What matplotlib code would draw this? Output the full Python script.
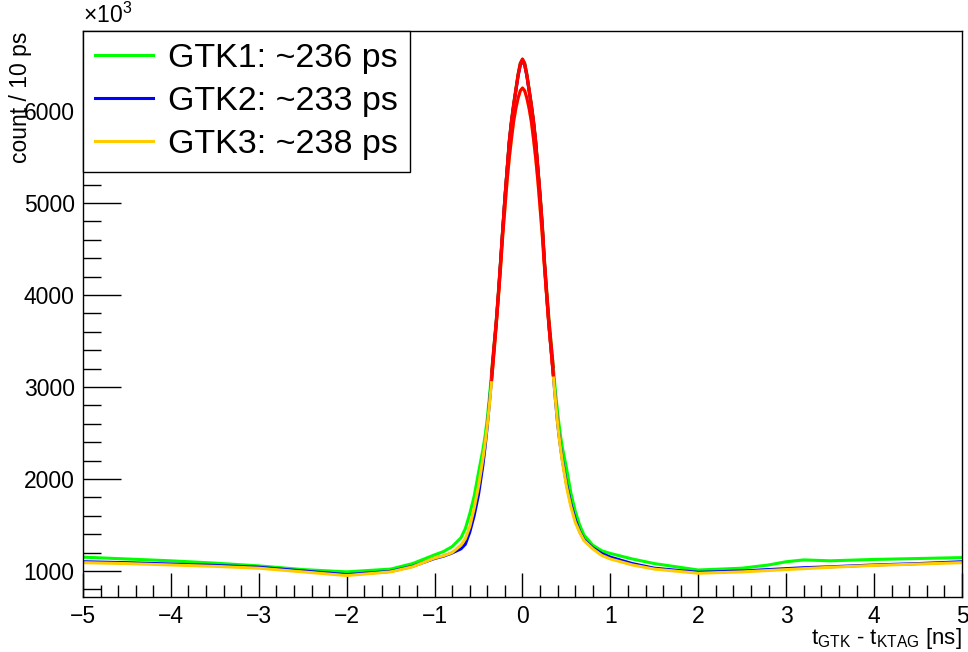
import matplotlib
matplotlib.use("Agg")
import matplotlib.pyplot as plt
from matplotlib.ticker import MultipleLocator

plt.rcParams['font.family'] = ['Liberation Sans', 'DejaVu Sans']
plt.rcParams['mathtext.fontset'] = 'custom'
plt.rcParams['mathtext.rm'] = 'Liberation Sans'
plt.rcParams['mathtext.it'] = 'Liberation Sans:italic'

# time difference [ns]
t_ns = [-5.0, -4.5, -4.0, -3.5, -3.0, -2.5, -2.0, -1.5, -1.25, -1.0, -0.9, -0.8, -0.7, -0.65, -0.6, -0.55, -0.5,
        -0.45, -0.425, -0.4, -0.375, -0.35, -0.325, -0.3, -0.275, -0.25, -0.225, -0.2, -0.175, -0.15, -0.125,
        -0.1, -0.075, -0.05, -0.025, 0.0, 0.025, 0.05, 0.075, 0.1, 0.125, 0.15, 0.175, 0.2, 0.225, 0.25, 0.275,
        0.3, 0.325, 0.35, 0.375, 0.4, 0.425, 0.45,
        0.5, 0.55, 0.6, 0.65, 0.7, 0.8, 0.9, 1.0, 1.25, 1.5, 2.0, 2.5, 2.8, 3.0, 3.2, 3.5, 4.0, 4.5, 5.0]

gtk1 = [1150, 1130, 1110, 1085, 1055, 1015, 990, 1020, 1080, 1175, 1210, 1265, 1360, 1460, 1620, 1810, 2070,
        2320, 2470, 2660, 2900, 3170, 3440, 3700, 4020, 4360, 4720, 5060, 5370, 5680, 5900,
        6080, 6240, 6400, 6520, 6565, 6520, 6400, 6240, 6080, 5900, 5680, 5390, 5100, 4780, 4380, 4050,
        3740, 3480, 3220, 2950, 2720, 2520, 2360,
        2120, 1850, 1650, 1500, 1390, 1280, 1220, 1190, 1130, 1080, 1010, 1030, 1065, 1100, 1120, 1110, 1125, 1135, 1145]

gtk2 = [1100, 1090, 1075, 1060, 1040, 1000, 960, 995, 1050, 1135, 1160, 1195, 1240, 1290, 1420, 1600, 1830,
        2150, 2350, 2580, 2840, 3110, 3400, 3680, 3990, 4340, 4700, 5050, 5360, 5660, 5880,
        6060, 6220, 6380, 6500, 6545, 6500, 6380, 6220, 6060, 5880, 5660, 5370, 5070, 4740, 4340, 4000,
        3680, 3410, 3140, 2860, 2600, 2400, 2230,
        1950, 1730, 1560, 1430, 1340, 1250, 1190, 1150, 1080, 1030, 985, 1000, 1015, 1025, 1035, 1045, 1065, 1080, 1100]

gtk3 = [1090, 1080, 1065, 1050, 1030, 990, 950, 990, 1045, 1140, 1165, 1200, 1280, 1350, 1480, 1680, 1920,
        2220, 2390, 2590, 2820, 3080, 3360, 3650, 3960, 4280, 4640, 4940, 5240, 5490, 5700,
        5890, 6030, 6140, 6220, 6250, 6220, 6140, 6030, 5890, 5700, 5490, 5240, 4950, 4650, 4300, 3980,
        3670, 3400, 3130, 2860, 2600, 2390, 2210,
        1920, 1700, 1530, 1420, 1330, 1240, 1170, 1130, 1065, 1020, 975, 990, 1005, 1015, 1025, 1040, 1060, 1075, 1090]

# gaussian fits around the peak (red)
fit_t = [-0.35, -0.325, -0.3, -0.275, -0.25, -0.225, -0.2, -0.175, -0.15, -0.125, -0.1, -0.075, -0.05, -0.025,
         0.0, 0.025, 0.05, 0.075, 0.1, 0.125, 0.15, 0.175, 0.2, 0.225, 0.25, 0.275, 0.3, 0.325, 0.35]
fit1 = [3170, 3440, 3700, 4020, 4360, 4720, 5060, 5370, 5680, 5900, 6080, 6240, 6400, 6520,
        6565, 6520, 6400, 6240, 6080, 5900, 5680, 5390, 5100, 4780, 4380, 4050, 3740, 3480, 3220]
fit2 = [3110, 3400, 3680, 3990, 4340, 4700, 5050, 5360, 5660, 5880, 6060, 6220, 6380, 6500,
        6545, 6500, 6380, 6220, 6060, 5880, 5660, 5370, 5070, 4740, 4340, 4000, 3680, 3410, 3140]
fit3 = [3080, 3360, 3650, 3960, 4280, 4640, 4940, 5240, 5490, 5700, 5890, 6030, 6140, 6220,
        6250, 6220, 6140, 6030, 5890, 5700, 5490, 5240, 4950, 4650, 4300, 3980, 3670, 3400, 3130]

labels = ['GTK1: ~236 ps', 'GTK2: ~233 ps', 'GTK3: ~238 ps']
colors = ['#00ff00', '#0000ff', '#ffcc00']

fig = plt.figure(figsize=(9.68, 6.52), dpi=100)
ax = fig.add_axes([0.0857, 0.0844, 0.9081, 0.8681])

for ys, c, lab in zip([gtk1, gtk2, gtk3], colors, labels):
    ax.plot(t_ns, ys, color=c, lw=2.2, label=lab)
for fy in [fit1, fit2, fit3]:
    ax.plot(fit_t, fy, color='#ff0000', lw=2.2)

ax.set_xlim(-5, 5)
ax.set_ylim(717, 6870)

ax.xaxis.set_major_locator(MultipleLocator(1))
ax.xaxis.set_minor_locator(MultipleLocator(0.2))
ax.yaxis.set_major_locator(MultipleLocator(1000))
ax.yaxis.set_minor_locator(MultipleLocator(200))
ax.tick_params(axis='both', which='both', direction='in', top=False, right=False,
               labelsize=16.5, colors='black', width=1)
ax.tick_params(axis='x', which='major', length=17, pad=6)
ax.tick_params(axis='x', which='minor', length=9)
ax.tick_params(axis='y', which='major', length=27, pad=6)
ax.tick_params(axis='y', which='minor', length=13)
for sp in ax.spines.values():
    sp.set_linewidth(1)

fig.text(0.0857, 0.957, r'$\times10^{3}$', ha='left', va='bottom', fontsize=16.5)
fig.text(0.021, 0.952, 'count / 10 ps', rotation=90, ha='center', va='top', fontsize=16.5)
fig.text(0.9938, 0.0395, r'$\mathrm{t_{GTK}}$ - $\mathrm{t_{KTAG}}$ [ns]', ha='right', va='top', fontsize=16)

leg = ax.legend(loc='upper left', bbox_to_anchor=(0, 1), borderaxespad=0, fontsize=24.5,
                fancybox=False, framealpha=1, edgecolor='black', handlelength=1.7,
                handletextpad=0.45, borderpad=0.35, labelspacing=0.36)
leg.get_frame().set_linewidth(1)

fig.savefig('out.png', dpi=100)
